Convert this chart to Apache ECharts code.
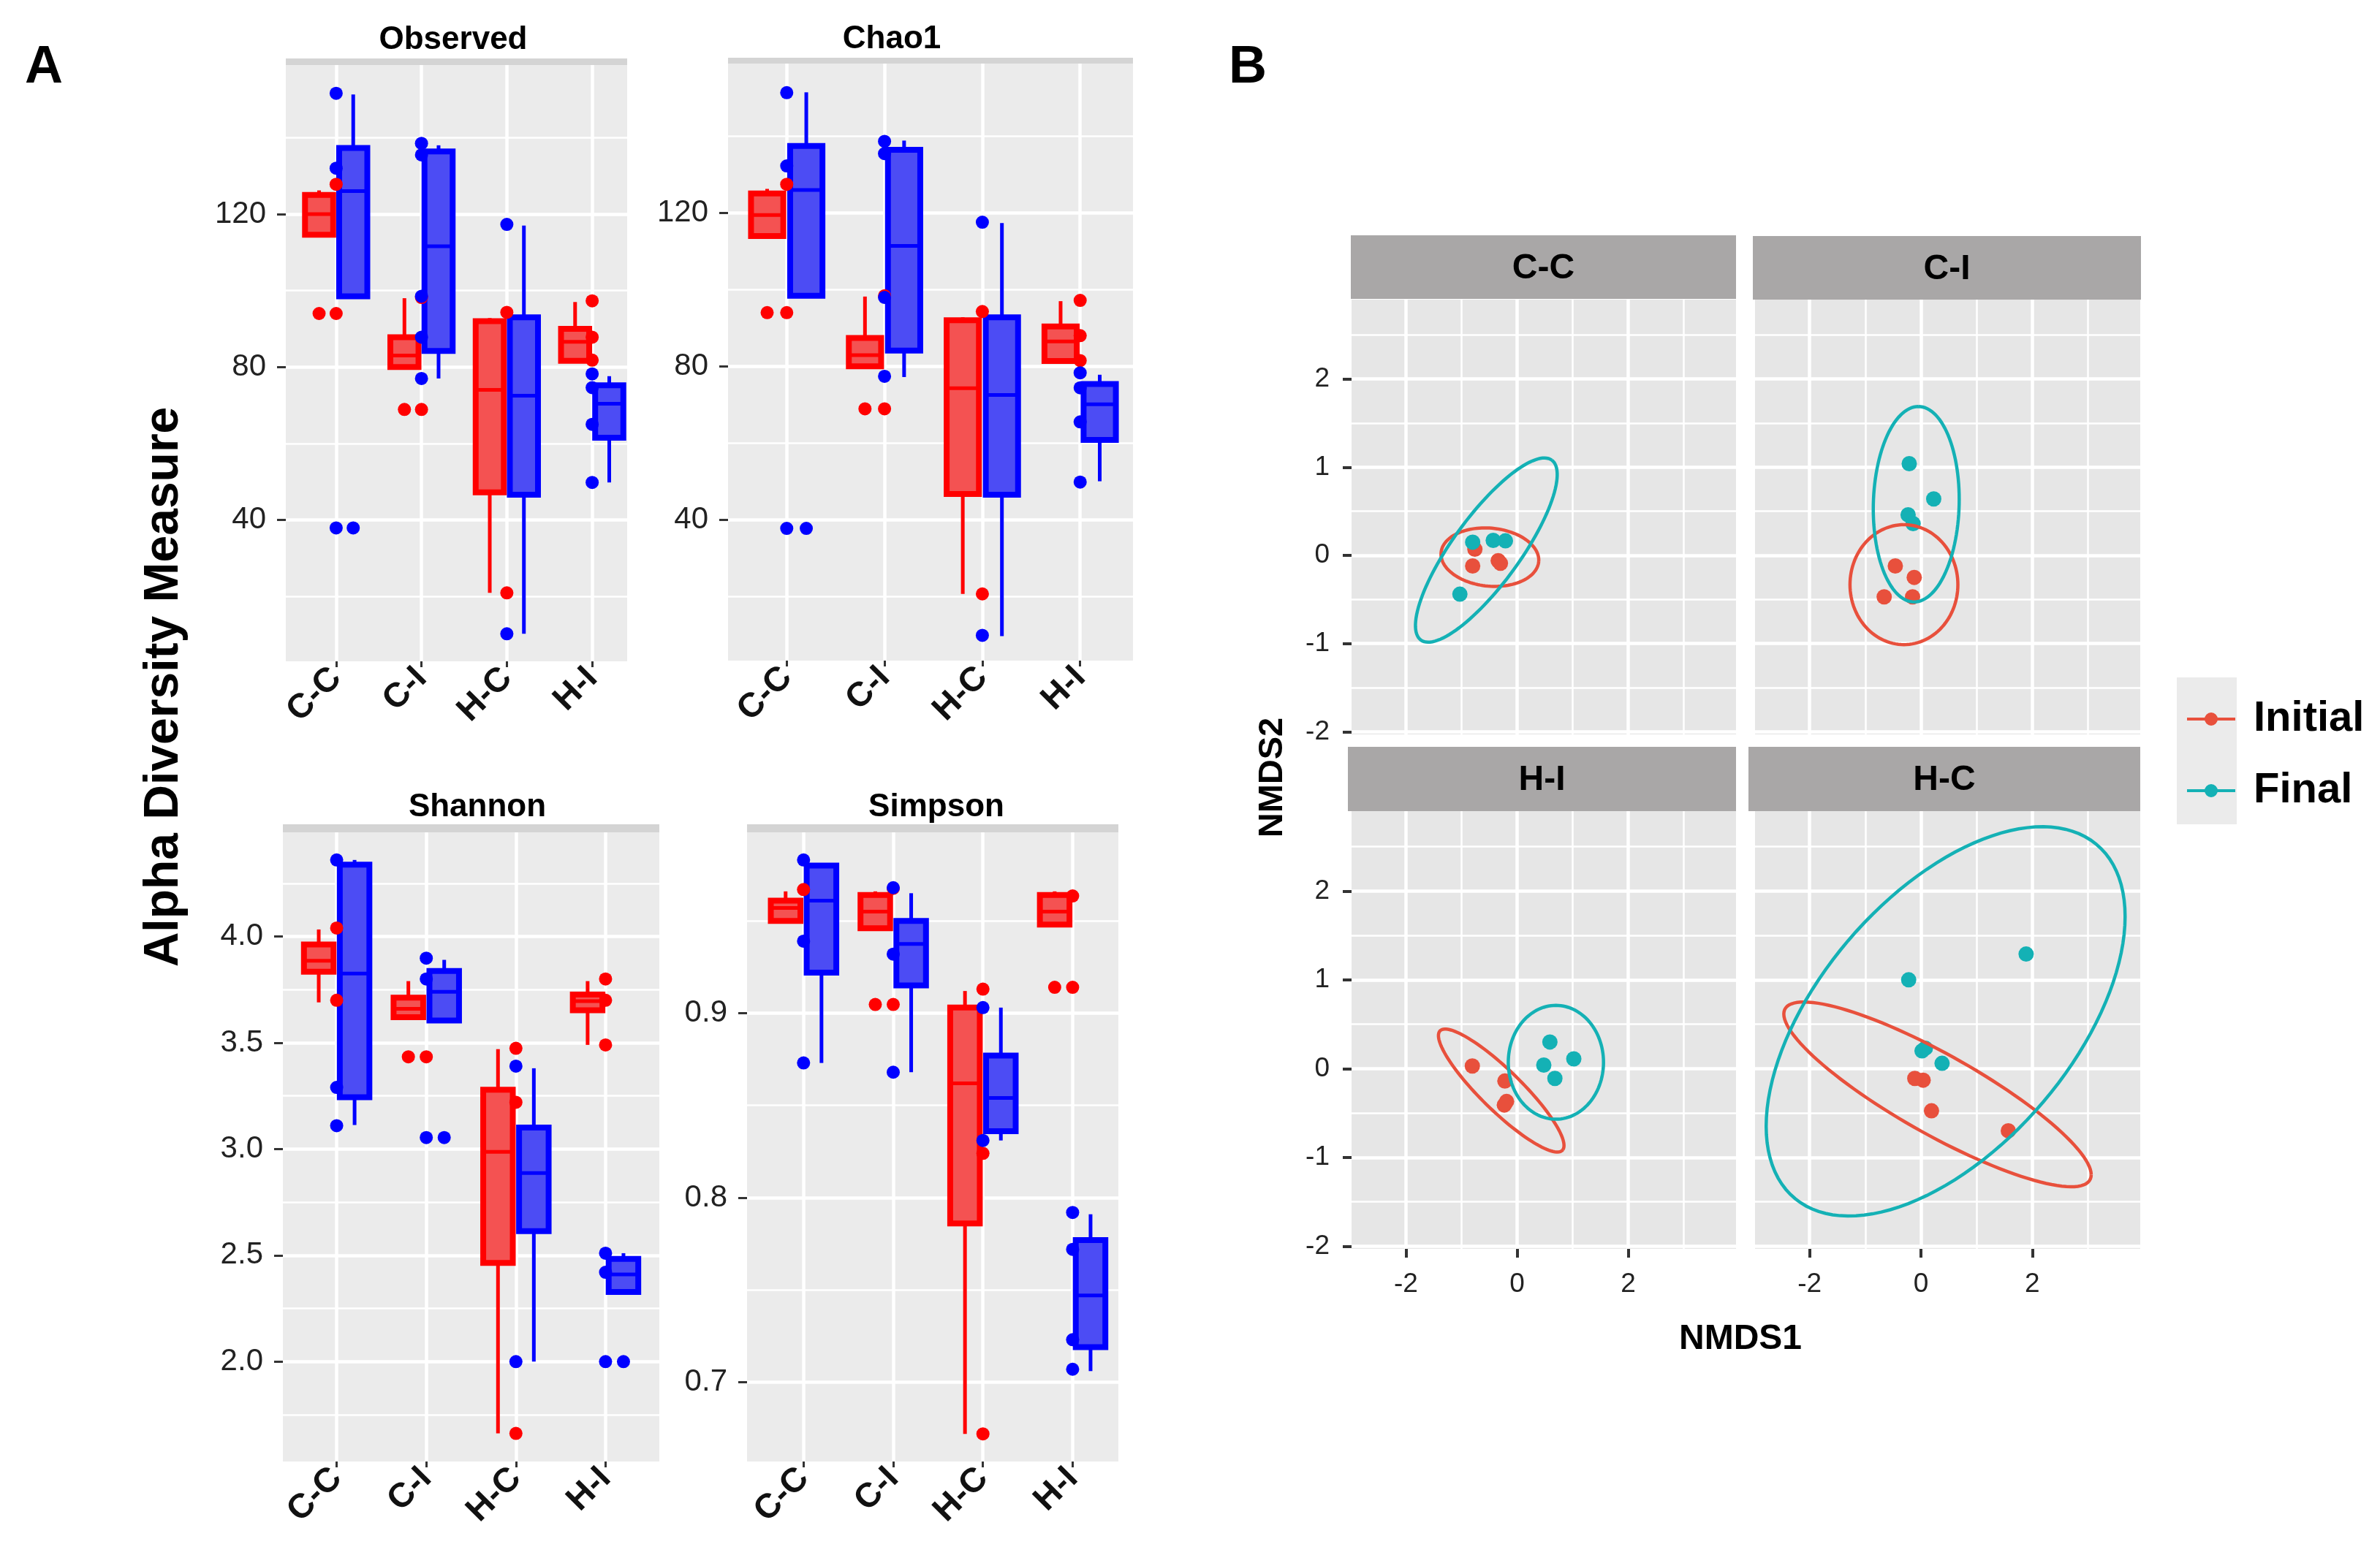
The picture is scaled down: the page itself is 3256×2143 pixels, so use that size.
<!DOCTYPE html>
<html>
<head>
<meta charset="utf-8">
<script src="https://cdn.jsdelivr.net/npm/echarts@6/dist/echarts.min.js"></script>
<style>html,body{margin:0;padding:0;background:#fff;}#c{width:3256px;height:2143px;}</style>
</head>
<body>
<div id="c"></div>
<script>
// ---------------- DATA ----------------
const groups = ['C-C', 'C-I', 'H-C', 'H-I'];
const alphaTitles = ['Observed', 'Chao1', 'Shannon', 'Simpson'];
const seriesNames = ['Initial', 'Final'];

// box stats per group: [lower whisker, Q1, median, Q3, upper whisker]
const observedInitialBox = [[114.6,114.6,120,125,126.2],[80,80,83,87.8,98],[20.9,47.2,74,92,92.8],[81.6,81.6,86.6,90,97]];
const observedFinalBox   = [[98.5,98.5,126,137.3,151.3],[77,84.2,111.6,136.4,138],[10.2,46.6,72.5,93,117],[49.8,61.5,70.4,75.2,77.6]];
const observedInitialPts = [[94,127.8],[98.2,68.9],[20.9,94.3],[97.3,87.8,81.8]];
const observedFinalPts   = [[151.6,132,37.9],[138.5,135.5,77,98.5,87.8],[117.3,10.2],[78.2,74.6,65,49.8]];
const observedInitialOut = [[94],[68.9],[],[]];
const observedFinalOut   = [[37.9],[],[],[]];

const chao1InitialBox = [[114,114,119.5,125.1,126.3],[80,80,82.9,87.4,98.2],[20.6,46.7,74.3,92,92.8],[81.4,81.4,86.5,90.4,97]];
const chao1FinalBox   = [[98.4,98.4,126,137.5,151.5],[77.2,84.1,111.4,136.5,138.9],[9.6,46.5,72.5,92.8,117.4],[50,60.8,70.1,75.4,77.8]];
const chao1InitialPts = [[94,127.5],[98.4,68.9],[20.6,94.3],[97.2,88,81.5]];
const chao1FinalPts   = [[151.4,132.3,37.7],[138.7,135.5,77.4,98],[117.6,9.8],[78.3,74.4,65.5,49.8]];
const chao1InitialOut = [[94],[68.9],[],[]];
const chao1FinalOut   = [[37.7],[],[],[]];

const shannonInitialBox = [[3.69,3.834,3.886,3.962,4.033],[3.62,3.62,3.66,3.712,3.79],[1.662,2.464,2.987,3.279,3.47],[3.49,3.653,3.696,3.727,3.79]];
const shannonFinalBox   = [[3.113,3.244,3.826,4.338,4.36],[3.605,3.605,3.74,3.838,3.89],[2.0,2.614,2.887,3.101,3.38],[2.328,2.328,2.41,2.483,2.51]];
const shannonInitialPts = [[4.04,3.70],[3.434],[3.474,1.662,3.22],[3.80,3.49,3.70]];
const shannonFinalPts   = [[4.36,3.29,3.11],[3.898,3.80,3.054],[3.39,2.0],[2.51,2.42,2.0]];
const shannonInitialOut = [[],[3.434],[],[]];
const shannonFinalOut   = [[],[3.054],[],[2.0]];

const simpsonInitialBox = [[0.950,0.950,0.957,0.961,0.966],[0.946,0.946,0.955,0.964,0.966],[0.672,0.786,0.862,0.903,0.912],[0.948,0.948,0.955,0.964,0.966]];
const simpsonFinalBox   = [[0.873,0.922,0.961,0.980,0.981],[0.868,0.915,0.9375,0.950,0.965],[0.831,0.836,0.854,0.877,0.903],[0.706,0.719,0.747,0.777,0.791]];
const simpsonInitialPts = [[0.967],[0.9047,0.9676],[0.913,0.672,0.824],[0.914,0.9635]];
const simpsonFinalPts   = [[0.983,0.939,0.873],[0.968,0.932,0.868],[0.903,0.831],[0.792,0.772,0.723,0.707]];
const simpsonInitialOut = [[],[0.9047],[],[0.914]];
const simpsonFinalOut   = [[],[],[],[]];

// tick values
const observedMajorTicks = [40, 80, 120];
const observedMinorTicks = [20, 60, 100, 140];
const shannonMajorTicks = [2.0, 2.5, 3.0, 3.5, 4.0];
const shannonMinorTicks = [1.75, 2.25, 2.75, 3.25, 3.75, 4.25];
const simpsonMajorTicks = [0.7, 0.8, 0.9];
const simpsonMinorTicks = [0.75, 0.85, 0.95];
const nmdsXMajorTicks = [-2, 0, 2];
const nmdsXMinorTicks = [-1, 1, 3];
const nmdsYMajorTicks = [-2, -1, 0, 1, 2];
const nmdsYMinorTicks = [-1.5, -0.5, 0.5, 1.5, 2.5];

// NMDS points [NMDS1, NMDS2]
const nmdsFacets = ['C-C', 'C-I', 'H-I', 'H-C'];
const ccInitial = [[-0.76,0.07],[-0.80,-0.12],[-0.34,-0.06],[-0.30,-0.09]];
const ccFinal   = [[-0.80,0.15],[-0.43,0.17],[-0.21,0.165],[-1.03,-0.44]];
const ciInitial = [[-0.46,-0.12],[-0.12,-0.25],[-0.66,-0.47],[-0.15,-0.47]];
const ciFinal   = [[-0.21,1.04],[0.23,0.64],[-0.23,0.46],[-0.14,0.36]];
const hiInitial = [[-0.806,0.03],[-0.22,-0.14],[-0.19,-0.37],[-0.23,-0.41]];
const hiFinal   = [[0.59,0.30],[0.48,0.04],[1.02,0.11],[0.68,-0.11]];
const hcInitial = [[-0.11,-0.11],[0.04,-0.13],[0.19,-0.475],[1.57,-0.70]];
const hcFinal   = [[1.89,1.29],[-0.22,1.0],[0.08,0.23],[0.38,0.06],[0.02,0.20]];

// 95% ellipses: [centre x, centre y, axis-1 dx, axis-1 dy, axis-2 dx, axis-2 dy]
const ccInitialEllipse = [-0.49,-0.02,0.879,-0.048,-0.038,-0.328];
const ccFinalEllipse   = [-0.554,0.06,1.178,1.02,0.49,-0.224];
const ciInitialEllipse = [-0.305,-0.332,0,0.68,0.969,0];
const ciFinalEllipse   = [-0.084,0.58,0.038,1.108,0.771,0];
const hiInitialEllipse = [-0.286,-0.247,1.111,-0.665,-0.206,-0.193];
const hiFinalEllipse   = [0.698,0.071,0.857,0,0,0.641];
const hcInitialEllipse = [0.298,-0.29,2.761,-0.905,0,0.5134];
const hcFinalEllipse   = [0.444,0.532,3.224,1.181,0,1.847];

// ---------------- STYLE / LAYOUT ----------------
const F = '"Liberation Sans", Arial, sans-serif';
const RED = '#FF0000', BLUE = '#0000FF';
const RED_FILL = '#F45252', BLUE_FILL = '#4C4CF4';
const NRED = '#E8503C', NTEAL = '#14B1B5';

const alphaPanels = [
  {box:[observedInitialBox, observedFinalBox], pts:[observedInitialPts, observedFinalPts], out:[observedInitialOut, observedFinalOut], major:observedMajorTicks, minor:observedMinorTicks, fmt:v=>String(v)},
  {box:[chao1InitialBox, chao1FinalBox], pts:[chao1InitialPts, chao1FinalPts], out:[chao1InitialOut, chao1FinalOut], major:observedMajorTicks, minor:observedMinorTicks, fmt:v=>String(v)},
  {box:[shannonInitialBox, shannonFinalBox], pts:[shannonInitialPts, shannonFinalPts], out:[shannonInitialOut, shannonFinalOut], major:shannonMajorTicks, minor:shannonMinorTicks, fmt:v=>v.toFixed(1)},
  {box:[simpsonInitialBox, simpsonFinalBox], pts:[simpsonInitialPts, simpsonFinalPts], out:[simpsonInitialOut, simpsonFinalOut], major:simpsonMajorTicks, minor:simpsonMinorTicks, fmt:v=>v.toFixed(1)}
];
const alphaLayout = [
  {left:391, top:89, width:467, height:816, x:[0.41,4.41], y:[3,159], tx:620, ty:55, sy:80, sh:9},
  {left:996, top:87, width:554, height:817, x:[0.40,4.54], y:[3.2,159], tx:1220, ty:54, sy:79, sh:8},
  {left:387, top:1139, width:515, height:861, x:[0.40,4.60], y:[1.53,4.49], tx:653, ty:1105, sy:1128, sh:11},
  {left:1022, top:1139, width:508, height:861, x:[0.37,4.51], y:[0.657,0.998], tx:1281, ty:1105, sy:1128, sh:11}
];
const nmdsPanels = [
  {pts:[ccInitial, ccFinal], ell:[ccInitialEllipse, ccFinalEllipse]},
  {pts:[ciInitial, ciFinal], ell:[ciInitialEllipse, ciFinalEllipse]},
  {pts:[hiInitial, hiFinal], ell:[hiInitialEllipse, hiFinalEllipse]},
  {pts:[hcInitial, hcFinal], ell:[hcInitialEllipse, hcFinalEllipse]}
];
const nmdsLayout = [
  {left:1849, top:410, width:526, height:595, sx:1848, sy:322, sw:527, sh:87, row:0, col:0},
  {left:2401, top:410, width:527, height:595, sx:2398, sy:323, sw:531, sh:87, row:0, col:1},
  {left:1849, top:1110, width:526, height:599, sx:1844, sy:1022, sw:531, sh:88, row:1, col:0},
  {left:2401, top:1110, width:527, height:599, sx:2392, sy:1022, sw:536, sh:88, row:1, col:1}
];
const NX = [-2.98, 3.94], NY = [-2.03, 2.9];

// ---------------- BUILD ----------------
const grid = [], xAxis = [], yAxis = [], series = [], graphic = [];
const NOLINE = {show:false, onZero:false};

function boxRender(off, stroke, fill) {
  return function (params, api) {
    const x = api.value(0) + off, hw = 0.165;
    const lo = api.value(1), q1 = api.value(2), md = api.value(3), q3 = api.value(4), hi = api.value(5);
    const tl = api.coord([x - hw, q3]), br = api.coord([x + hw, q1]);
    const ml = api.coord([x - hw, md]), mr = api.coord([x + hw, md]);
    const t = api.coord([x, hi]), a = api.coord([x, q3]), b = api.coord([x, q1]), d = api.coord([x, lo]);
    const ch = [];
    if (hi > q3) ch.push({type:'line', shape:{x1:t[0], y1:t[1], x2:a[0], y2:a[1]}, style:{stroke, lineWidth:5}});
    if (lo < q1) ch.push({type:'line', shape:{x1:b[0], y1:b[1], x2:d[0], y2:d[1]}, style:{stroke, lineWidth:5}});
    ch.push({type:'rect', shape:{x:tl[0], y:tl[1], width:br[0]-tl[0], height:br[1]-tl[1]}, style:{fill, stroke, lineWidth:8}});
    ch.push({type:'line', shape:{x1:ml[0], y1:ml[1], x2:mr[0], y2:mr[1]}, style:{stroke, lineWidth:5}});
    return {type:'group', children:ch};
  };
}
function ellipseRender(stroke) {
  return function (params, api) {
    const cx = api.value(0), cy = api.value(1), ax = api.value(2), ay = api.value(3), bx = api.value(4), by = api.value(5);
    const pts = [];
    for (let k = 0; k <= 120; k++) {
      const t = k / 120 * 2 * Math.PI, c = Math.cos(t), s = Math.sin(t);
      pts.push(api.coord([cx + ax * c + bx * s, cy + ay * c + by * s]));
    }
    return {type:'polyline', shape:{points:pts}, style:{stroke, lineWidth:4.5, fill:null}};
  };
}
function txt(x, y, text, size, weight, opts) {
  return Object.assign({type:'text', x, y, z:10, style:{text, fontSize:size, fontWeight:weight, fontFamily:F, fill:'#000',
    align:'center', verticalAlign:'middle', textAlign:'center', textVerticalAlign:'middle'}}, opts || {});
}

// Panel A
alphaPanels.forEach((p, i) => {
  const L = alphaLayout[i];
  grid.push({left:L.left, top:L.top, width:L.width, height:L.height, show:true, backgroundColor:'#EBEBEB', borderWidth:0});
  const gi = grid.length - 1;
  xAxis.push({type:'value', gridIndex:gi, min:L.x[0], max:L.x[1], axisLine:NOLINE,
    axisTick:{show:true, customValues:[1,2,3,4], length:8, lineStyle:{color:'#333', width:3}},
    axisLabel:{customValues:[1,2,3,4], formatter:v => groups[Math.round(v)-1] || '', rotate:45, margin:16,
      fontSize:47, fontWeight:'bold', color:'#111', fontFamily:F},
    splitLine:{show:true, lineStyle:{color:'#fff', width:4.5}}});
  const xi = xAxis.length - 1;
  yAxis.push({type:'value', gridIndex:gi, min:L.y[0], max:L.y[1], axisLine:NOLINE,
    axisTick:{show:true, customValues:p.major, length:12, lineStyle:{color:'#333', width:3}},
    axisLabel:{customValues:p.major, formatter:p.fmt, fontSize:42, color:'#222', margin:27, fontFamily:F},
    splitLine:{show:true, lineStyle:{color:'#fff', width:4.5}}});
  const yi = yAxis.length - 1;
  yAxis.push({type:'value', gridIndex:gi, min:L.y[0], max:L.y[1], position:'left', axisLine:NOLINE,
    axisTick:{show:false, customValues:p.minor}, axisLabel:{show:false, customValues:p.minor},
    splitLine:{show:true, lineStyle:{color:'#fff', width:2.5}}});

  [0, 1].forEach(k => {
    const off = k === 0 ? -0.2 : 0.2;
    const stroke = k === 0 ? RED : BLUE, fill = k === 0 ? RED_FILL : BLUE_FILL;
    series.push({type:'custom', name:alphaTitles[i] + ' ' + seriesNames[k] + ' box', xAxisIndex:xi, yAxisIndex:yi, z:2,
      renderItem:boxRender(off, stroke, fill), encode:{x:0, y:[1,2,3,4,5]},
      data:p.box[k].map((b, g) => [g + 1].concat(b))});
  });
  [0, 1].forEach(k => {
    const off = k === 0 ? -0.2 : 0.2;
    const color = k === 0 ? RED : BLUE;
    const pts = [];
    p.pts[k].forEach((arr, g) => arr.forEach(v => pts.push([g + 1, v])));
    p.out[k].forEach((arr, g) => arr.forEach(v => pts.push([g + 1 + off, v])));
    series.push({type:'scatter', name:alphaTitles[i] + ' ' + seriesNames[k] + ' points', xAxisIndex:xi, yAxisIndex:yi, z:3,
      symbolSize:18, itemStyle:{color, opacity:1}, data:pts});
  });
  graphic.push({type:'rect', shape:{x:L.left, y:L.sy, width:L.width, height:L.sh}, style:{fill:'#D4D4D4'}, z:1});
  graphic.push(txt(L.tx, L.ty, alphaTitles[i], 44, 'bold'));
});

// Panel B
nmdsPanels.forEach((p, i) => {
  const L = nmdsLayout[i];
  const bottom = L.row === 1, leftCol = L.col === 0;
  grid.push({left:L.left, top:L.top, width:L.width, height:L.height, show:true, backgroundColor:'#E6E6E6', borderWidth:0});
  const gi = grid.length - 1;
  xAxis.push({type:'value', gridIndex:gi, min:NX[0], max:NX[1], position:'bottom', axisLine:NOLINE,
    axisTick:{show:bottom, customValues:nmdsXMajorTicks, length:12, lineStyle:{color:'#333', width:4}},
    axisLabel:{show:bottom, customValues:nmdsXMajorTicks, formatter:v => String(v), fontSize:37, color:'#222', margin:30, fontFamily:F},
    splitLine:{show:true, lineStyle:{color:'#fff', width:4.5}}});
  const xi = xAxis.length - 1;
  xAxis.push({type:'value', gridIndex:gi, min:NX[0], max:NX[1], position:'bottom', axisLine:NOLINE,
    axisTick:{show:false, customValues:nmdsXMinorTicks}, axisLabel:{show:false, customValues:nmdsXMinorTicks},
    splitLine:{show:true, lineStyle:{color:'#fff', width:2.5}}});
  yAxis.push({type:'value', gridIndex:gi, min:NY[0], max:NY[1], position:'left', axisLine:NOLINE,
    axisTick:{show:leftCol, customValues:nmdsYMajorTicks, length:12, lineStyle:{color:'#333', width:4}},
    axisLabel:{show:leftCol, customValues:nmdsYMajorTicks, formatter:v => String(v), fontSize:37, color:'#222', margin:30, fontFamily:F},
    splitLine:{show:true, lineStyle:{color:'#fff', width:4.5}}});
  const yi = yAxis.length - 1;
  yAxis.push({type:'value', gridIndex:gi, min:NY[0], max:NY[1], position:'left', axisLine:NOLINE,
    axisTick:{show:false, customValues:nmdsYMinorTicks}, axisLabel:{show:false, customValues:nmdsYMinorTicks},
    splitLine:{show:true, lineStyle:{color:'#fff', width:2.5}}});

  [0, 1].forEach(k => {
    const color = k === 0 ? NRED : NTEAL;
    series.push({type:'scatter', name:seriesNames[k], xAxisIndex:xi, yAxisIndex:yi, z:3, symbolSize:21,
      itemStyle:{color, opacity:1}, data:p.pts[k]});
  });
  [0, 1].forEach(k => {
    const color = k === 0 ? NRED : NTEAL;
    series.push({type:'custom', name:nmdsFacets[i] + ' ' + seriesNames[k] + ' ellipse', xAxisIndex:xi, yAxisIndex:yi, z:4,
      renderItem:ellipseRender(color), encode:{x:0, y:1}, data:[p.ell[k]]});
  });
  graphic.push({type:'rect', shape:{x:L.sx, y:L.sy, width:L.sw, height:L.sh}, style:{fill:'#A9A7A7'}, z:1});
  graphic.push(txt(L.sx + L.sw / 2, L.sy + L.sh / 2 + 2, nmdsFacets[i], 48, 'bold'));
});

// labels
graphic.push(txt(60, 93, 'A', 72, 'bold'));
graphic.push(txt(1707, 93, 'B', 72, 'bold'));
graphic.push(txt(225, 940, 'Alpha Diversity Measure', 66, 'bold', {rotation:Math.PI / 2}));
graphic.push(txt(1741, 1064, 'NMDS2', 47, 'bold', {rotation:Math.PI / 2}));
graphic.push(txt(2381, 1833, 'NMDS1', 48, 'bold'));
graphic.push({type:'rect', shape:{x:2978, y:927, width:82, height:201}, style:{fill:'#EBEBEB'}, z:0});

const ICON = 'path://M0,9L66,9L66,13L0,13Z M24,11A9,9 0 1,1 42,11A9,9 0 1,1 24,11Z';
const option = {
  animation:false,
  backgroundColor:'#fff',
  grid, xAxis, yAxis, series,
  graphic:{elements:graphic},
  legend:{data:[{name:'Initial', icon:ICON}, {name:'Final', icon:ICON}], orient:'vertical', left:2987, top:949,
    itemWidth:66, itemHeight:22, itemGap:38, selectedMode:false, z:5,
    textStyle:{fontSize:58, fontWeight:'bold', color:'#000', fontFamily:F, lineHeight:60, padding:[0,0,0,20]}}
};
const chart = echarts.init(document.getElementById('c'), null, {renderer:'canvas'});
chart.setOption(option);
</script>
</body>
</html>
